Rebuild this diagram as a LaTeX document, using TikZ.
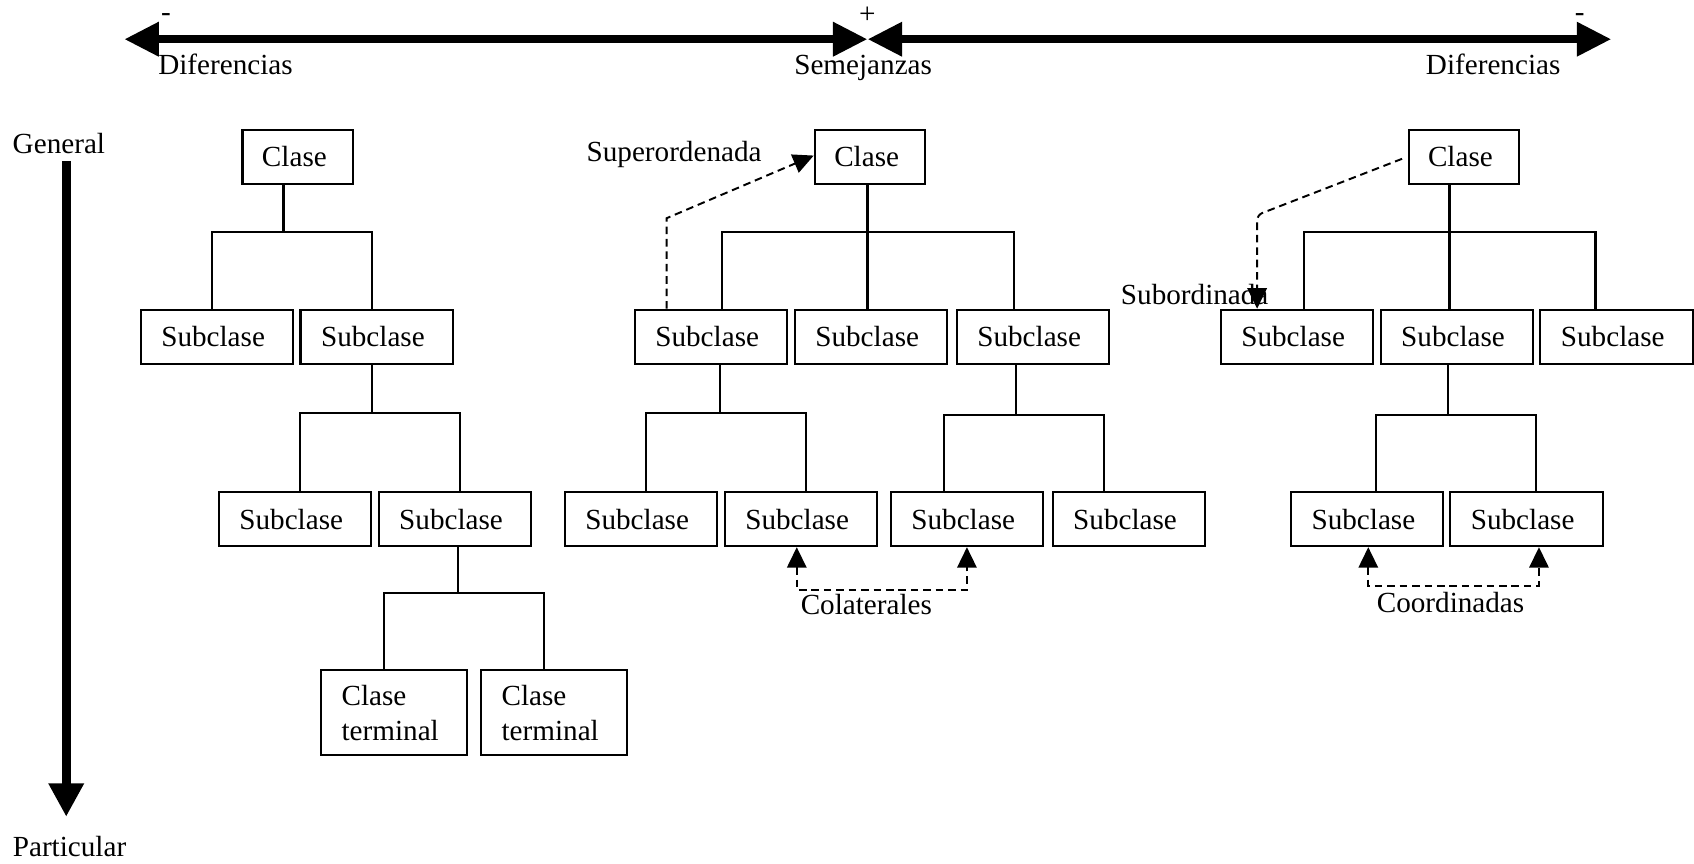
\documentclass[tikz,border=0pt]{standalone}
\usepackage{fontspec}
\setmainfont{Liberation Serif}
\usetikzlibrary{arrows.meta}
\tikzset{
  relhead/.tip={Triangle[length=19pt,width=18pt]},
  axhead/.tip={Triangle[length=32pt,width=30pt]}
}
\begin{document}
\begin{tikzpicture}[x=1pt,y=-1pt,
  font=\fontsize{27}{32.4}\selectfont,
  box/.style={draw, line width=2pt, anchor=north west, align=left, inner ysep=0pt, minimum height=50pt},
  subbox/.style={box, text width=103pt, inner xsep=19pt},
  clsbox/.style={box, text width=66pt, inner xsep=18pt},
  termbox/.style={box, text width=97pt, inner xsep=19pt, minimum height=79pt},
  lbl/.style={inner sep=0pt, anchor=base west},
  tree/.style={line width=2pt},
  axis/.style={line width=7.7pt, axhead-axhead},
  rel/.style={line width=1.8pt, dash pattern=on 7pt off 4.5pt}
]
\useasboundingbox (0,0) rectangle (1568,799);

% horizontal scale: differences -- similarities -- differences
\coordinate (axL) at (115,36.3);
\coordinate (axM) at (803,36.3);
\coordinate (axR) at (1491.5,36.3);
\draw[axis] (axL) -- (axM);
\draw[axis] (axM) -- (axR);
\node[lbl] (minusL) at (149,20) {-};
\node[lbl] (plus) at (795,21.6) {+};
\node[lbl] (minusR) at (1457.5,20) {-};
\node[lbl] (difL) at (146.3,68.5) {Diferencias};
\node[lbl] (sem) at (735,68.5) {Semejanzas};
\node[lbl] (difR) at (1319.7,68.5) {Diferencias};

% vertical scale: general -> particular
\node[lbl] (gen) at (11.6,142) {General};
\node[lbl] (par) at (11.7,793) {Particular};
\coordinate (vT) at (61.3,149);
\coordinate (vB) at (61.3,756);
\draw[line width=8pt, -{Triangle[length=31pt,width=31pt]}] (vT) -- (vB);

% ---------- first hierarchy ----------
\node[clsbox] (c1) at (223.5,119) {Clase};
\node[subbox] (s1a) at (129.3,285.7) {Subclase};
\node[subbox] (s1b) at (277.2,285.7) {Subclase};
\node[subbox] (s1c) at (201.6,454.5) {Subclase};
\node[subbox] (s1d) at (349.5,454.5) {Subclase};
\node[termbox] (t1a) at (296.2,619.2) {Clase\\terminal};
\node[termbox] (t1b) at (444.3,619.2) {Clase\\terminal};

\draw[tree] (c1.south -| 262.4,0) -- (262.4,215) coordinate (b1);
\draw[tree] (s1a.north -| 195.9,0) |- (b1) -| (s1b.north -| 344.2,0);
\draw[tree] (s1b.south -| 344.2,0) -- (344.2,382) coordinate (b1b);
\draw[tree] (s1c.north -| 277.4,0) |- (b1b) -| (s1d.north -| 425.8,0);
\draw[tree] (s1d.south -| 423.6,0) -- (423.6,549) coordinate (b1d);
\draw[tree] (t1a.north -| 355.7,0) |- (b1d) -| (t1b.north -| 503.8,0);

% ---------- second hierarchy ----------
\node[clsbox] (c2) at (753.2,119) {Clase};
\node[subbox] (s2a) at (586.6,285.7) {Subclase};
\node[subbox] (s2b) at (734.7,285.7) {Subclase};
\node[subbox] (s2c) at (884.6,285.7) {Subclase};
\node[subbox] (s2d) at (521.8,454.5) {Subclase};
\node[subbox] (s2e) at (669.9,454.5) {Subclase};
\node[subbox] (s2f) at (823.6,454.5) {Subclase};
\node[subbox] (s2g) at (973.4,454.5) {Subclase};

\draw[tree] (c2.south -| 803,0) -- (803,215) coordinate (b2);
\draw[tree] (s2a.north -| 668,0) |- (b2) -| (s2c.north -| 938.7,0);
\draw[tree] (b2) -- (s2b.north -| 803,0);
\draw[tree] (s2a.south -| 666.3,0) -- (666.3,382) coordinate (b2a);
\draw[tree] (s2d.north -| 597.6,0) |- (b2a) -| (s2e.north -| 746,0);
\draw[tree] (s2c.south -| 940.4,0) -- (940.4,384) coordinate (b2c);
\draw[tree] (s2f.north -| 873.6,0) |- (b2c) -| (s2g.north -| 1021.9,0);

\node[lbl] (sup) at (542.8,149.6) {Superordenada};
\draw[rel, -relhead] (s2a.north -| 617,0) -- (617,202) -- ([yshift=1pt]c2.west);

\node[lbl] (col) at (741,569) {Colaterales};
\draw[rel, relhead-relhead] (s2e.south -| 737.5,0) -- (737.5,546) -- (895,546) -- (s2f.south -| 895,0);

% ---------- third hierarchy ----------
\node[clsbox] (c3) at (1302.8,119) {Clase};
\node[subbox] (s3a) at (1129,285.7) {Subclase};
\node[subbox] (s3b) at (1277,285.7) {Subclase};
\node[subbox] (s3c) at (1424.8,285.7) {Subclase};
\node[subbox] (s3d) at (1194,454.5) {Subclase};
\node[subbox] (s3e) at (1341.4,454.5) {Subclase};

\draw[tree] (c3.south -| 1341.7,0) -- (1341.7,215) coordinate (b3);
\draw[tree] (s3a.north -| 1206.8,0) |- (b3) -| (s3c.north -| 1476.8,0);
\draw[tree] (b3) -- (s3b.north -| 1341.7,0);
\draw[tree] (s3b.south -| 1340,0) -- (1340,384) coordinate (b3b);
\draw[tree] (s3d.north -| 1273.8,0) |- (b3b) -| (s3e.north -| 1421.5,0);

\node[lbl] (sub) at (1037.4,282.3) {Subordinada};
\draw[rel, rounded corners=5pt, -relhead] ([xshift=-5pt,yshift=-2pt]c3.west) -- (1163.6,199) -- (s3a.north -| 1163.6,0);

\node[lbl] (coo) at (1274.2,567) {Coordinadas};
\draw[rel, relhead-relhead] (s3d.south -| 1266.5,0) -- (1266.5,542) -- (1424.5,542) -- (s3e.south -| 1424.5,0);

\end{tikzpicture}
\end{document}
